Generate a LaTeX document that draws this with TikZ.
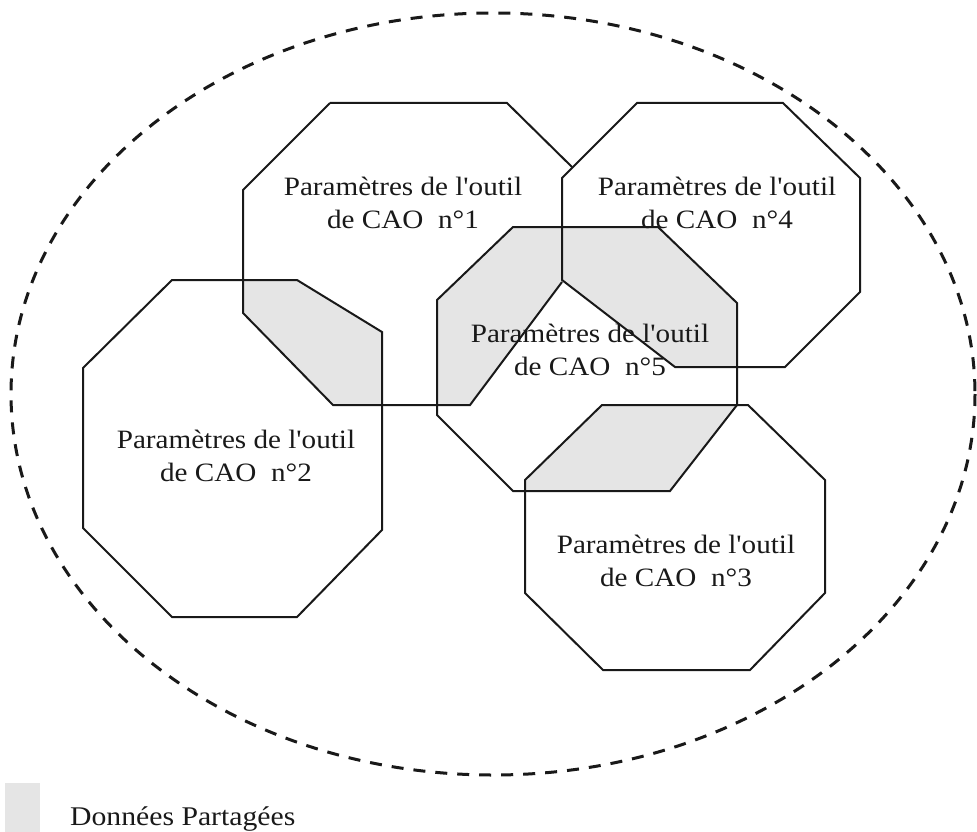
\documentclass[tikz,border=0pt]{standalone}
\usepackage{fontspec}
\setmainfont{Liberation Serif}
\newfontfamily\lblfont[FakeStretch=1.1]{Liberation Serif}
\begin{document}
\begin{tikzpicture}[x=1pt,y=-1pt,
  octo/.style={draw=black!90, line width=2pt, line join=miter},
  shared/.style={fill=black!10},
  scopeline/.style={draw=black!90, line width=3pt, dash pattern=on 12pt off 10pt},
  lbl/.style={font=\lblfont\fontsize{26.5}{33}\selectfont, align=center, text=black!90, inner sep=0pt}]
\useasboundingbox (0,0) rectangle (977,832);

% shared areas between tools
\fill[shared] (243,280) -- (297,280) -- (382,332) -- (382,405) -- (333,405) -- (243,313) -- cycle;
\fill[shared] (513,227) -- (562,227) -- (562,282) -- (470,405) -- (437,405) -- (437,300) -- cycle;
\fill[shared] (562,227) -- (658,227) -- (737,303) -- (737,367) -- (675,367) -- (562,280) -- cycle;
\fill[shared] (602,405) -- (737,405) -- (670,491) -- (525,491) -- (525,480) -- cycle;

% tool 1
\draw[octo] (330,103) -- (507,103) -- (572,167) (562,282) -- (470,405) -- (333,405) -- (243,313) -- (243,190) -- (330,103);
% tool 2
\draw[octo] (172,280) -- (297,280) -- (382,332) -- (382,530) -- (297,617) -- (172,617) -- (83,528) -- (83,368) -- cycle;
% tool 3
\draw[octo] (602,405) -- (748,405) -- (825,480) -- (825,593) -- (750,670) -- (603,670) -- (525,593) -- (525,480) -- cycle;
% tool 4
\draw[octo] (637,103) -- (783,103) -- (860,178) -- (860,292) -- (785,367) -- (675,367) -- (562,280) -- (562,178) -- cycle;
% tool 5
\draw[octo] (513,227) -- (658,227) -- (737,303) -- (737,405) -- (670,491) -- (513,491) -- (437,415) -- (437,300) -- cycle;

% common domain
\draw[scopeline] (493,394) ellipse [x radius=482, y radius=381];

\node[lbl] (t1) at (403,203) {Paramètres de l'outil\\de CAO\ \ n°1};
\node[lbl] (t4) at (717,203) {Paramètres de l'outil\\de CAO\ \ n°4};
\node[lbl] (t5) at (590,350) {Paramètres de l'outil\\de CAO\ \ n°5};
\node[lbl] (t2) at (236,456) {Paramètres de l'outil\\de CAO\ \ n°2};
\node[lbl] (t3) at (676,561) {Paramètres de l'outil\\de CAO\ \ n°3};

% legend
\fill[shared] (5,783) rectangle (40,832);
\node[font=\lblfont\fontsize{27}{30}\selectfont, text=black!90, anchor=base west, inner sep=0pt] (legend) at (70,825) {Données Partagées};
\end{tikzpicture}
\end{document}
